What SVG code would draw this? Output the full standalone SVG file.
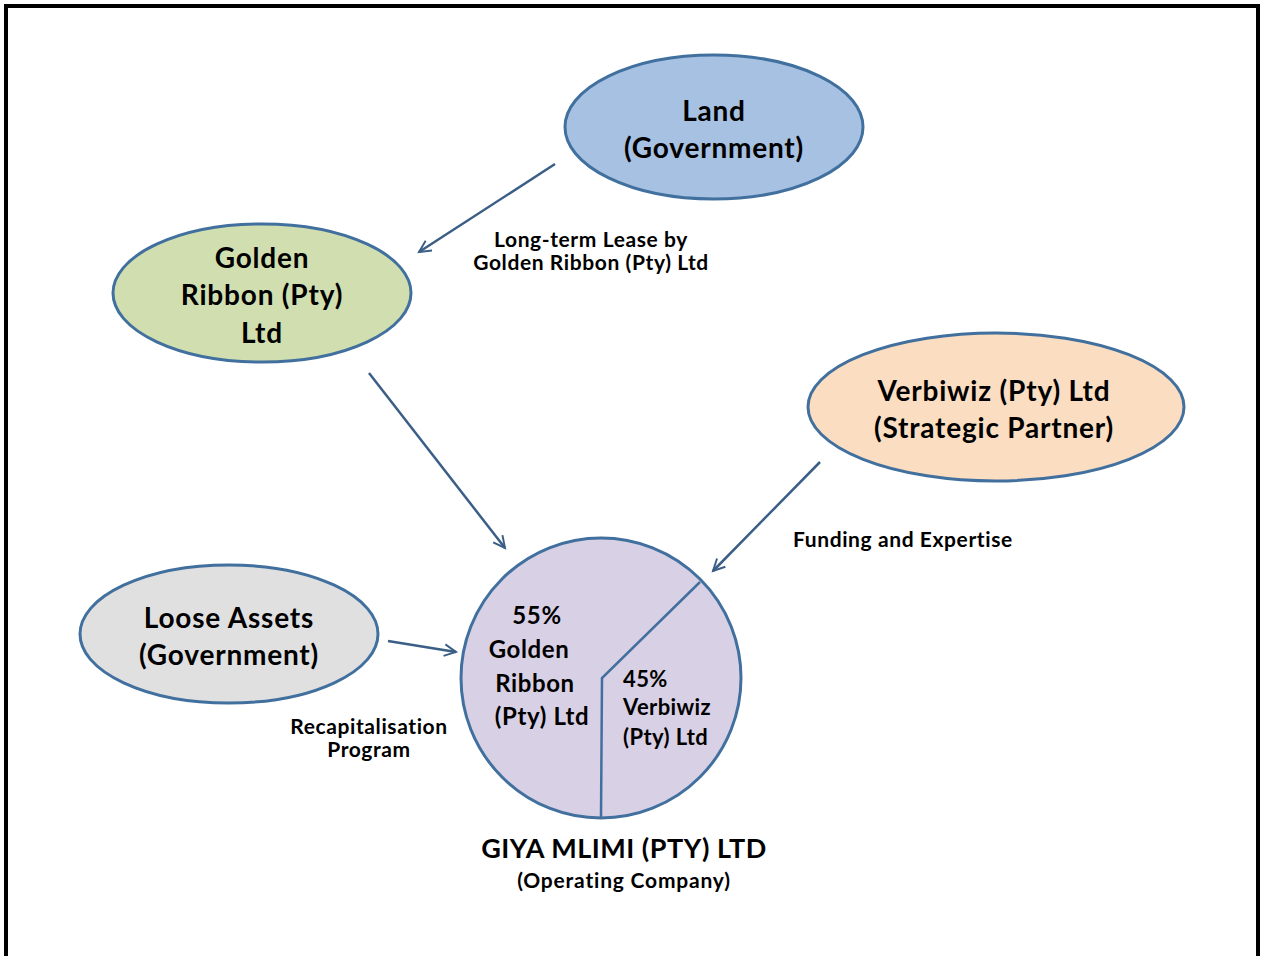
<svg xmlns="http://www.w3.org/2000/svg" width="1264" height="956" viewBox="0 0 1264 956">
<style>
.node{stroke:#41709F;stroke-width:3}
.t{font-family:Lato,"Open Sans","Liberation Sans",sans-serif;font-weight:bold;fill:#000}
.big{font-size:28px;letter-spacing:0.8px;text-anchor:middle}
.lab{font-size:21px;letter-spacing:0.6px}
.pie{font-size:24px;letter-spacing:0.6px}
.pie2{font-size:22px;letter-spacing:0.4px}
.conn{stroke:#3B5E86;stroke-width:2.5;fill:none}
</style>
<defs>
<marker id="ah" viewBox="0 0 20 20" refX="18" refY="10" markerWidth="13" markerHeight="13" markerUnits="userSpaceOnUse" orient="auto" overflow="visible">
<path d="M0,1 L18,10 L0,19" fill="none" stroke="#3B5E86" stroke-width="3"/>
</marker>
</defs>
<rect x="0" y="0" width="1264" height="956" fill="#fff"/>
<rect x="6" y="6" width="1252" height="970" fill="none" stroke="#000" stroke-width="4"/>
<g id="land">
<ellipse class="node" cx="714" cy="127" rx="149" ry="72" fill="#A7C1E2"/>
<text class="t big" x="714" y="121">Land</text>
<text class="t big" x="714" y="158">(Government)</text>
</g>
<g id="golden-ribbon">
<ellipse class="node" cx="262" cy="293" rx="149" ry="69" fill="#D1DEB0"/>
<text class="t big" x="262" y="268">Golden</text>
<text class="t big" x="262" y="305">Ribbon (Pty)</text>
<text class="t big" x="262" y="343">Ltd</text>
</g>
<g id="verbiwiz">
<ellipse class="node" cx="996" cy="407" rx="188" ry="74" fill="#FBDDC1"/>
<text class="t big" x="994" y="401">Verbiwiz (Pty) Ltd</text>
<text class="t big" x="994" y="438">(Strategic Partner)</text>
</g>
<g id="loose-assets">
<ellipse class="node" cx="229" cy="634" rx="149" ry="69" fill="#E0E0E0"/>
<text class="t big" x="229" y="628">Loose Assets</text>
<text class="t big" x="229" y="665">(Government)</text>
</g>
<g id="giya-mlimi">
<circle class="node" cx="601" cy="678" r="140" fill="#D8D0E4"/>
<path d="M700,582 L602,678 L601,818" fill="none" stroke="#41709F" stroke-width="2.5"/>
<text class="t pie" text-anchor="middle" x="537" y="624">55%</text>
<text class="t pie" text-anchor="middle" x="529" y="658">Golden</text>
<text class="t pie" text-anchor="middle" x="535" y="692">Ribbon</text>
<text class="t pie" text-anchor="middle" x="542" y="725">(Pty) Ltd</text>
<text class="t pie2" x="623" y="687">45%</text>
<text class="t pie2" x="623" y="715">Verbiwiz</text>
<text class="t pie2" x="623" y="745">(Pty) Ltd</text>
<text class="t" font-size="27" letter-spacing="0.5" text-anchor="middle" x="624" y="858">GIYA MLIMI (PTY) LTD</text>
<text class="t" font-size="21" letter-spacing="0.8" text-anchor="middle" x="624" y="888">(Operating Company)</text>
</g>
<g id="connectors">
<line class="conn" x1="555" y1="164" x2="419" y2="252" marker-end="url(#ah)"/>
<line class="conn" x1="369" y1="373" x2="505" y2="548" marker-end="url(#ah)"/>
<line class="conn" x1="820" y1="462" x2="713" y2="571" marker-end="url(#ah)"/>
<line class="conn" x1="388" y1="641" x2="456" y2="652" marker-end="url(#ah)"/>
<text class="t lab" text-anchor="middle" x="591" y="247">Long-term Lease by</text>
<text class="t lab" text-anchor="middle" x="591" y="270">Golden Ribbon (Pty) Ltd</text>
<text class="t lab" x="793" y="547">Funding and Expertise</text>
<text class="t lab" text-anchor="middle" x="369" y="734">Recapitalisation</text>
<text class="t lab" text-anchor="middle" x="369" y="757">Program</text>
</g>
</svg>
